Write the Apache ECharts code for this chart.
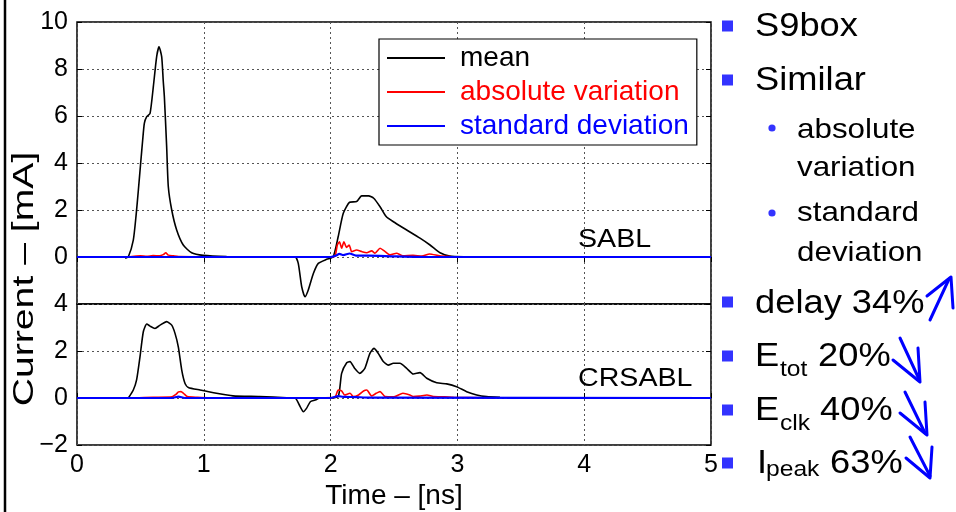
<!DOCTYPE html>
<html>
<head>
<meta charset="utf-8">
<script src="https://cdn.jsdelivr.net/npm/echarts@6/dist/echarts.min.js"></script>
<style>html,body{margin:0;padding:0;background:#fff}#c{width:956px;height:512px}</style>
</head>
<body>
<div id="c"></div>
<script>
// ---------- data (time in ns, current in mA) ----------
var xTicks = [0, 1, 2, 3, 4, 5];
var seriesNames = ['mean', 'absolute variation', 'standard deviation'];
var panelLabels = ['SABL', 'CRSABL'];

// SABL (upper panel)
var sablMeanT = [0.38,0.405,0.444,0.465,0.484,0.502,0.518,0.531,0.55,0.576,0.602,0.628,0.647,0.668,0.68,0.689,0.707,0.72,0.747,0.786,0.838,0.904,0.996,1.18,1.5,1.72,1.745,1.772,1.798,1.824,1.864,1.903,1.969,2.02,2.06,2.1,2.15,2.205,2.245,2.3,2.34,2.39,2.44,2.495,2.6,2.705,2.784,2.863,2.94,3.05];
var sablMeanI = [-0.05,0.01,0.72,1.72,2.85,3.99,4.98,5.69,5.97,6.11,7.25,8.52,8.95,8.52,7.5,6.82,4.7,3.0,2.0,1.15,0.51,0.18,0.07,0.02,0.0,0.0,-0.27,-1.26,-1.69,-1.4,-0.7,-0.27,-0.1,0.0,0.87,1.86,2.33,2.36,2.6,2.6,2.5,2.14,1.71,1.5,1.15,0.8,0.51,0.18,0.04,0.01];
var sablAbsT = [0.40,0.45,0.5,0.55,0.6,0.65,0.68,0.70,0.72,0.76,0.8,1.0,1.5,2.0,2.035,2.053,2.07,2.087,2.105,2.126,2.147,2.166,2.205,2.245,2.285,2.324,2.35,2.39,2.43,2.47,2.52,2.57,2.65,2.72,2.78,2.86,2.95,3.05];
var sablAbsI = [0,0.03,0.05,0.03,0.06,0.05,0.1,0.18,0.08,0.05,0.02,0.01,0,0,0.04,0.51,0.65,0.37,0.65,0.41,0.51,0.23,0.3,0.23,0.18,0.26,0.16,0.37,0.23,0.09,0.16,0.05,0.07,0.04,0.13,0.05,0.02,0];
var sablStdT = [0,2.0,2.04,2.07,2.1,2.15,2.2,2.3,2.5,2.8,5];
var sablStdI = [0,0,0.05,0.13,0.08,0.15,0.06,0.06,0.03,0,0];

// CRSABL (lower panel)
var crMeanT = [0.405,0.444,0.47,0.497,0.523,0.55,0.576,0.615,0.655,0.707,0.747,0.773,0.799,0.826,0.852,0.878,0.97,1.1,1.23,1.44,1.654,1.72,1.76,1.785,1.81,1.84,1.877,1.916,1.995,2.06,2.087,2.127,2.153,2.19,2.23,2.27,2.31,2.342,2.376,2.416,2.455,2.495,2.547,2.6,2.652,2.705,2.758,2.837,2.916,2.994,3.073,3.152,3.23,3.336];
var crMeanI = [0,0.34,0.77,1.76,2.82,3.15,3.06,2.96,3.1,3.25,3.1,2.75,2.18,1.19,0.62,0.45,0.34,0.2,0.09,0.06,0.01,0,-0.37,-0.58,-0.44,-0.16,-0.09,0,0.01,0.06,1.05,1.5,1.55,1.26,1.05,1.26,1.9,2.11,1.9,1.55,1.4,1.48,1.48,1.26,1.02,1.08,0.84,0.65,0.6,0.48,0.27,0.13,0.06,0.03];
var crAbsT = [0.45,0.6,0.75,0.78,0.8,0.82,0.84,0.87,0.95,1.05,1.5,2.03,2.06,2.087,2.11,2.153,2.18,2.22,2.26,2.285,2.324,2.36,2.39,2.43,2.5,2.57,2.625,2.65,2.7,2.76,2.81,2.9,2.97,3.1,3.3];
var crAbsI = [0,0.03,0.05,0.15,0.26,0.27,0.2,0.06,0.03,0.01,0,0.02,0.34,0.3,0.13,0.2,0.06,0.13,0.3,0.34,0.09,0.2,0.27,0.06,0.05,0.2,0.13,0.06,0.08,0.13,0.06,0.05,0.03,0.02,0];
var crStdT = [0,0.75,0.8,0.85,2.0,2.06,2.1,2.2,2.3,5];
var crStdI = [0,0,0.06,0,0,0.08,0.05,0.04,0.02,0];

// ---------- chart ----------
var FONT = '"Liberation Sans", Arial, Helvetica, sans-serif';
function pairs(ts, vs) { return ts.map(function (t, i) { return [t, vs[i]]; }); }
var colors = {'mean': '#000000', 'absolute variation': '#ff0000', 'standard deviation': '#0000ff'};
var widths = {'mean': 1.6, 'absolute variation': 1.6, 'standard deviation': 2.2};
function mk(name, xi, yi, data) {
  return {
    name: name, type: 'line', xAxisIndex: xi, yAxisIndex: yi, data: data,
    symbol: 'none', smooth: 0.2, silent: true,
    lineStyle: {color: colors[name], width: widths[name]},
    itemStyle: {color: colors[name]}
  };
}
var dotted = {show: true, lineStyle: {color: '#555', width: 1, type: [2, 3]}};
function fmtY(v) { return v < 0 ? '\u2212' + (-v) : String(v); }
var tickLbl = {fontSize: 25, color: '#000', fontFamily: FONT};

var chart = echarts.init(document.getElementById('c'), null, {renderer: 'canvas'});
var option = {
  animation: false,
  backgroundColor: '#fff',
  grid: [
    {left: 77, right: 245, top: 22, height: 282, show: true, borderColor: '#000', borderWidth: 1.5},
    {left: 77, right: 245, top: 304, height: 141, show: true, borderColor: '#000', borderWidth: 1.5}
  ],
  xAxis: [
    {type: 'value', gridIndex: 0, position: 'top', min: xTicks[0], max: xTicks[xTicks.length - 1], interval: 1,
     axisLine: {show: false}, axisTick: {show: true, inside: true, length: 5, lineStyle: {color: '#000'}},
     axisLabel: {show: false}, splitLine: dotted},
    {type: 'value', gridIndex: 1, position: 'bottom', min: xTicks[0], max: xTicks[xTicks.length - 1], interval: 1,
     axisLine: {show: false}, axisTick: {show: true, inside: true, length: 5, lineStyle: {color: '#000'}},
     axisLabel: Object.assign({margin: 8}, tickLbl), splitLine: dotted,
     name: 'Time \u2013 [ns]', nameLocation: 'middle', nameGap: 37,
     nameTextStyle: {fontSize: 28, color: '#000', fontFamily: FONT}}
  ],
  yAxis: [
    {type: 'value', gridIndex: 0, min: -2, max: 10, interval: 2,
     axisLine: {show: false}, axisTick: {show: true, inside: true, length: 5, lineStyle: {color: '#000'}},
     axisLabel: Object.assign({margin: 9, formatter: function (v) { return v === -2 ? '' : fmtY(v); }}, tickLbl),
     splitLine: dotted},
    {type: 'value', gridIndex: 0, position: 'right', min: -2, max: 10, interval: 2,
     axisLine: {show: false}, axisTick: {show: true, inside: true, length: 5, lineStyle: {color: '#000'}},
     axisLabel: {show: false}, splitLine: {show: false}},
    {type: 'value', gridIndex: 1, min: -2, max: 4, interval: 2,
     axisLine: {show: false}, axisTick: {show: true, inside: true, length: 5, lineStyle: {color: '#000'}},
     axisLabel: Object.assign({margin: 9, formatter: fmtY}, tickLbl),
     splitLine: dotted},
    {type: 'value', gridIndex: 1, position: 'right', min: -2, max: 4, interval: 2,
     axisLine: {show: false}, axisTick: {show: true, inside: true, length: 5, lineStyle: {color: '#000'}},
     axisLabel: {show: false}, splitLine: {show: false}}
  ],
  legend: {
    orient: 'vertical', left: 379, top: 39,
    data: [
      {name: seriesNames[0], textStyle: {color: '#000'}},
      {name: seriesNames[1], textStyle: {color: '#ff0000'}},
      {name: seriesNames[2], textStyle: {color: '#0000ff'}}
    ],
    icon: 'rect', itemWidth: 58, itemHeight: 2, itemGap: 6,
    padding: [5, 8, 5, 8],
    borderColor: '#000', borderWidth: 1.2, backgroundColor: '#fff', borderRadius: 0,
    selectedMode: false,
    textStyle: {fontSize: 28, fontFamily: FONT, padding: [0, 0, 0, 10]}
  },
  series: [
    mk(seriesNames[0], 0, 0, pairs(sablMeanT, sablMeanI)),
    mk(seriesNames[1], 0, 0, pairs(sablAbsT, sablAbsI)),
    mk(seriesNames[2], 0, 0, pairs(sablStdT, sablStdI)),
    mk(seriesNames[0], 1, 2, pairs(crMeanT, crMeanI)),
    mk(seriesNames[1], 1, 2, pairs(crAbsT, crAbsI)),
    mk(seriesNames[2], 1, 2, pairs(crStdT, crStdI))
  ],
  graphic: []
};

var B = '#3333ff', A = '#0000ff';
var G = option.graphic;
function txt(s, x, y, fs, sx, extra) {
  var o = {type: 'text', x: x, y: y, scaleX: sx || 1, z: 100,
    style: {text: s, fontSize: fs, fontFamily: FONT, fill: '#000', align: 'left', verticalAlign: 'middle'}};
  if (extra) Object.assign(o.style, extra);
  G.push(o);
}
function sq(cy) { G.push({type: 'rect', z: 100, shape: {x: 722, y: cy - 5.5, width: 11, height: 11}, style: {fill: B}}); }
function dot(cy) { G.push({type: 'circle', z: 100, shape: {cx: 772, cy: cy, r: 3.6}, style: {fill: B}}); }
function arrow(pts) { G.push({type: 'polyline', z: 100, shape: {points: pts}, style: {stroke: A, lineWidth: 3, fill: null, lineCap: 'round', lineJoin: 'round'}}); }

// left frame line
G.push({type: 'line', z: 100, shape: {x1: 5, y1: 0, x2: 5, y2: 512}, style: {stroke: '#000', lineWidth: 2.5}});
// panel labels
txt(panelLabels[0], 578, 240, 26, 1.1);
txt(panelLabels[1], 578, 379, 26, 1.1);
// y-axis title
G.push({type: 'text', x: 25, y: 279, rotation: Math.PI / 2, scaleX: 1.35, z: 100,
  style: {text: 'Current \u2013 [mA]', fontSize: 29, fontFamily: FONT, fill: '#000', align: 'center', verticalAlign: 'middle'}});
// bullet list
sq(26); txt('S9box', 755, 27, 33, 1.1);
sq(80); txt('Similar', 755, 81, 33, 1.1);
dot(128); txt('absolute', 797, 130, 28, 1.12);
txt('variation', 797, 168, 28, 1.12);
dot(213); txt('standard', 797, 213, 28, 1.12);
txt('deviation', 797, 253, 28, 1.12);
sq(302); txt('delay 34%', 755, 304, 33, 1.1);
sq(356); txt('E', 755, 357, 33, 1.1); txt('tot', 780, 370, 22, 1.12); txt('20%', 818, 357, 33, 1.1);
sq(410); txt('E', 755, 411, 33, 1.1); txt('clk', 780, 424, 22, 1.12); txt('40%', 820, 411, 33, 1.1);
sq(463); txt('I', 757, 464, 33, 1.1); txt('peak', 766, 470, 22, 1.12); txt('63%', 830, 464, 33, 1.1);
// hand-drawn arrows
arrow([[930, 320], [949, 279]]); arrow([[927, 296], [951, 277], [953, 308]]);
arrow([[900, 338], [919, 379]]); arrow([[893, 360], [920, 382], [918, 348]]);
arrow([[905, 392], [925, 433]]); arrow([[900, 413], [927, 435], [925, 402]]);
arrow([[910, 437], [930, 476]]); arrow([[906, 458], [930, 478], [932, 447]]);

chart.setOption(option);
</script>
</body>
</html>
